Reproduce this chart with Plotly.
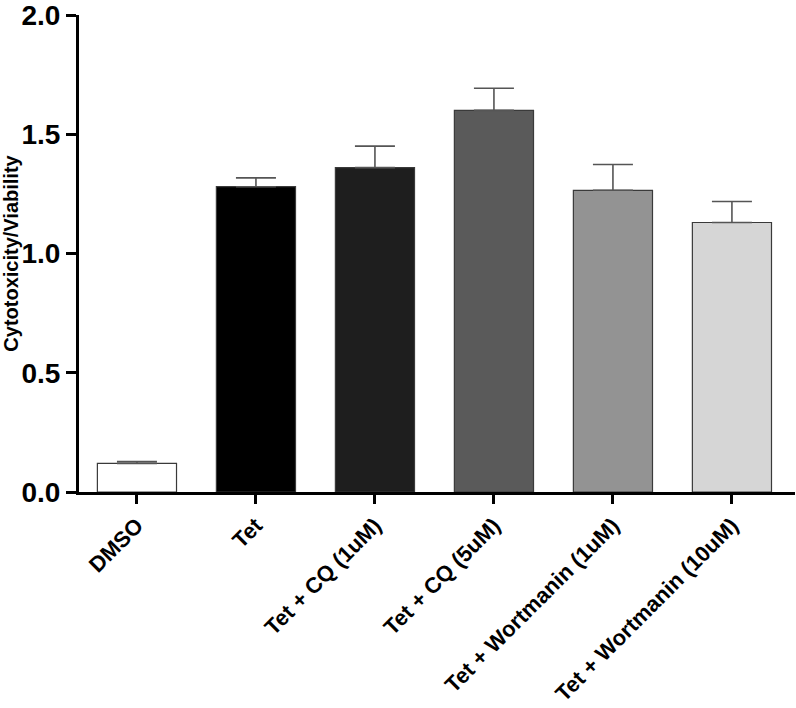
import plotly.graph_objects as go

categories = ["DMSO", "Tet", "Tet + CQ (1uM)", "Tet + CQ (5uM)",
              "Tet + Wortmanin (1uM)", "Tet + Wortmanin (10uM)"]
values = [0.12, 1.28, 1.36, 1.60, 1.265, 1.13]
errors = [0.008, 0.037, 0.09, 0.093, 0.108, 0.088]
colors = ["#ffffff", "#000000", "#1e1e1e", "#5a5a5a", "#939393", "#d6d6d6"]
y_ticks = [0.0, 0.5, 1.0, 1.5, 2.0]

FONT = "Liberation Sans, Arial, sans-serif"

fig = go.Figure()
fig.add_trace(go.Bar(
    x=list(range(len(categories))),
    y=values,
    width=0.665,
    marker=dict(color=colors, line=dict(color="#3a3a3a", width=1.2)),
    error_y=dict(type="data", array=errors, arrayminus=[0] * len(errors),
                 symmetric=False, color="#555555", thickness=1.6, width=20),
    showlegend=False,
))

fig.update_layout(
    width=796, height=708,
    margin=dict(l=79, r=1, t=15, b=216),
    plot_bgcolor="white", paper_bgcolor="white",
    bargap=0.3,
)
fig.update_xaxes(
    range=[-0.487, 5.53],
    tickmode="array",
    tickvals=list(range(len(categories))),
    ticktext=categories,
    tickangle=-45,
    tickfont=dict(family=FONT, size=22, color="black", weight="bold"),
    showline=True, linecolor="black", linewidth=3,
    ticks="outside", ticklen=9, tickwidth=3, tickcolor="black",
    showgrid=False, zeroline=False,
)
fig.update_yaxes(
    range=[0, 2.0],
    tickmode="array",
    tickvals=y_ticks,
    ticktext=[f"{v:.1f}" for v in y_ticks],
    tickfont=dict(family=FONT, size=28, color="black", weight="bold"),
    ticklabeloverflow="allow",
    title=dict(text="Cytotoxicity/Viability",
               font=dict(family=FONT, size=20, color="black", weight="bold"),
               standoff=6),
    showline=True, linecolor="black", linewidth=3,
    ticks="outside", ticklen=10, tickwidth=3, tickcolor="black",
    showgrid=False, zeroline=False,
)

fig.write_html("out.html",
               config={"displayModeBar": False},
               post_script="document.body.style.margin='0';")
